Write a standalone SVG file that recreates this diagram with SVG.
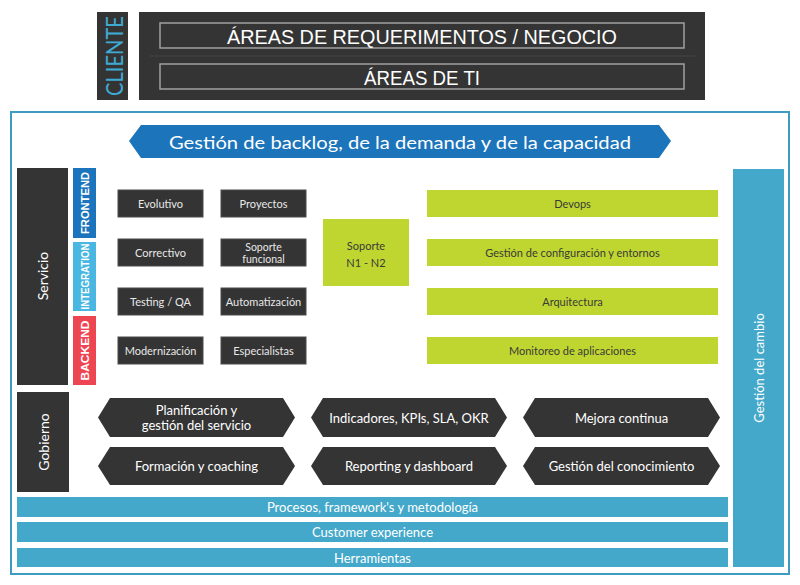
<svg xmlns="http://www.w3.org/2000/svg" width="800" height="585" viewBox="0 0 800 585">
<style>
  text { font-family: "Lato", "Liberation Sans", sans-serif; text-anchor: middle; dominant-baseline: central; }
  .dark { fill: #343434; }
  .box { fill: #343434; stroke: #4a4a4a; stroke-width: 1; }
  .green { fill: #bfd630; }
  .teal { fill: #44a8ca; }
  .lt { fill: #e8e8e8; font-size: 11px; }
  .gt { fill: #3a3a3a; font-size: 11px; }
  .hdr { fill: #ffffff; font-size: 21px; font-family: "Liberation Sans", sans-serif; }
  .inner { fill: #343434; stroke: #a0a0a0; stroke-width: 1.5; }
  .hex { fill: #343434; }
  .ht { fill: #ffffff; font-size: 13px; }
  .bt { fill: #ffffff; font-size: 13px; }
  .side { fill: #ffffff; font-weight: bold; font-size: 11px; font-family: "Liberation Sans", sans-serif; }
</style>
<rect width="800" height="585" fill="#ffffff"/>

<g id="cliente">
  <rect x="97" y="12" width="31" height="88" class="dark"/>
  <text transform="translate(113,56) rotate(-90)" font-size="24" fill="#3fa9d3" textLength="80" lengthAdjust="spacingAndGlyphs" font-family="Liberation Sans, sans-serif">CLIENTE</text>
</g>
<g id="header">
  <rect x="139" y="12" width="566" height="88" class="dark"/>
  <line x1="150" y1="56" x2="695" y2="56" stroke="#454545" stroke-width="1"/>
  <g id="areas-negocio">
    <rect x="160" y="23" width="524" height="25" class="inner"/>
    <text x="422" y="36" class="hdr" textLength="390" lengthAdjust="spacingAndGlyphs">ÁREAS DE REQUERIMENTOS / NEGOCIO</text>
  </g>
  <g id="areas-ti">
    <rect x="160" y="64" width="524" height="25" class="inner"/>
    <text x="422" y="77" class="hdr" textLength="116" lengthAdjust="spacingAndGlyphs">ÁREAS DE TI</text>
  </g>
</g>

<g id="frame">
  <rect x="11" y="112" width="778" height="462" fill="none" stroke="#3d9cbf" stroke-width="2"/>
</g>

<g id="backlog">
  <polygon points="129,141 141,125 659,125 671,141 659,158 141,158" fill="#1c74bb"/>
  <text x="400" y="141.5" font-size="18" fill="#ffffff" textLength="462" lengthAdjust="spacingAndGlyphs">Gestión de backlog, de la demanda y de la capacidad</text>
</g>

<g id="servicio">
  <rect x="17" y="168" width="51" height="217" class="dark"/>
  <text transform="translate(42,276) rotate(-90)" font-size="14" fill="#ffffff">Servicio</text>
</g>
<g id="frontend">
  <rect x="73" y="168" width="23" height="70" fill="#1c75bc"/>
  <text transform="translate(85,203) rotate(-90)" class="side" textLength="62" lengthAdjust="spacingAndGlyphs">FRONTEND</text>
</g>
<g id="integration">
  <rect x="73" y="242" width="23" height="69" fill="#4ab7e2"/>
  <text transform="translate(85,276.5) rotate(-90)" class="side" textLength="66" lengthAdjust="spacingAndGlyphs">INTEGRATION</text>
</g>
<g id="backend">
  <rect x="73" y="316" width="23" height="69" fill="#ee4553"/>
  <text transform="translate(85,350.5) rotate(-90)" class="side" textLength="60" lengthAdjust="spacingAndGlyphs">BACKEND</text>
</g>

<g id="evolutivo"><rect x="118" y="190" width="85" height="27" class="box"/><text x="160.5" y="203.5" class="lt">Evolutivo</text></g>
<g id="proyectos"><rect x="221" y="190" width="85" height="27" class="box"/><text x="263.5" y="203.5" class="lt">Proyectos</text></g>
<g id="correctivo"><rect x="118" y="239" width="85" height="27" class="box"/><text x="160.5" y="252.5" class="lt">Correctivo</text></g>
<g id="soporte-funcional"><rect x="221" y="239" width="85" height="27" class="box"/><text x="263.5" y="246.5" font-size="10.5" fill="#e8e8e8">Soporte</text><text x="263.5" y="258.5" font-size="10.5" fill="#e8e8e8">funcional</text></g>
<g id="testing"><rect x="118" y="288" width="85" height="27" class="box"/><text x="160.5" y="301.5" class="lt">Testing / QA</text></g>
<g id="automatizacion"><rect x="221" y="288" width="85" height="27" class="box"/><text x="263.5" y="301.5" class="lt">Automatización</text></g>
<g id="modernizacion"><rect x="118" y="337" width="85" height="27" class="box"/><text x="160.5" y="350.5" class="lt">Modernización</text></g>
<g id="especialistas"><rect x="221" y="337" width="85" height="27" class="box"/><text x="263.5" y="350.5" class="lt">Especialistas</text></g>

<g id="soporte-n1n2">
  <rect x="323" y="219" width="86" height="67" class="green"/>
  <text x="366" y="245" class="gt">Soporte</text>
  <text x="366" y="262" class="gt">N1 - N2</text>
</g>

<g id="devops"><rect x="427" y="190" width="291" height="27" class="green"/><text x="572.5" y="203.5" class="gt">Devops</text></g>
<g id="config"><rect x="427" y="239" width="291" height="27" class="green"/><text x="572.5" y="252.5" class="gt">Gestión de configuración y entornos</text></g>
<g id="arquitectura"><rect x="427" y="288" width="291" height="27" class="green"/><text x="572.5" y="301.5" class="gt">Arquitectura</text></g>
<g id="monitoreo"><rect x="427" y="337" width="291" height="27" class="green"/><text x="572.5" y="350.5" class="gt">Monitoreo de aplicaciones</text></g>

<g id="gestion-cambio">
  <rect x="733" y="169" width="51" height="398" class="teal"/>
  <text transform="translate(758.5,368) rotate(-90)" font-size="13" fill="#ffffff">Gestión del cambio</text>
</g>

<g id="gobierno">
  <rect x="17" y="392" width="52" height="100" class="dark"/>
  <text transform="translate(43,442) rotate(-90)" font-size="14" fill="#ffffff">Gobierno</text>
</g>

<g id="planificacion">
  <polygon points="98,417.5 110,398 283,398 295,417.5 283,437 110,437" class="hex"/>
  <text x="196.5" y="410" class="ht">Planificación y</text>
  <text x="196.5" y="425" class="ht">gestión del servicio</text>
</g>
<g id="indicadores">
  <polygon points="311,417.5 323,398 495,398 507,417.5 495,437 323,437" class="hex"/>
  <text x="409" y="417.5" class="ht">Indicadores, KPIs, SLA, OKR</text>
</g>
<g id="mejora">
  <polygon points="523,417.5 535,398 708,398 720,417.5 708,437 535,437" class="hex"/>
  <text x="621.5" y="417.5" class="ht">Mejora continua</text>
</g>
<g id="formacion">
  <polygon points="98,466 110,447 283,447 295,466 283,485 110,485" class="hex"/>
  <text x="196.5" y="466" class="ht">Formación y coaching</text>
</g>
<g id="reporting">
  <polygon points="311,466 323,447 495,447 507,466 495,485 323,485" class="hex"/>
  <text x="409" y="466" class="ht">Reporting y dashboard</text>
</g>
<g id="conocimiento">
  <polygon points="523,466 535,447 708,447 720,466 708,485 535,485" class="hex"/>
  <text x="621.5" y="466" class="ht">Gestión del conocimiento</text>
</g>

<g id="procesos"><rect x="17" y="497" width="711" height="20" class="teal"/><text x="372.5" y="507" class="bt">Procesos, framework's y metodología</text></g>
<g id="customer"><rect x="17" y="522" width="711" height="20" class="teal"/><text x="372.5" y="532" class="bt">Customer experience</text></g>
<g id="herramientas"><rect x="17" y="548" width="711" height="19" class="teal"/><text x="372.5" y="557.5" class="bt">Herramientas</text></g>

<g id="connectors"></g>
</svg>
